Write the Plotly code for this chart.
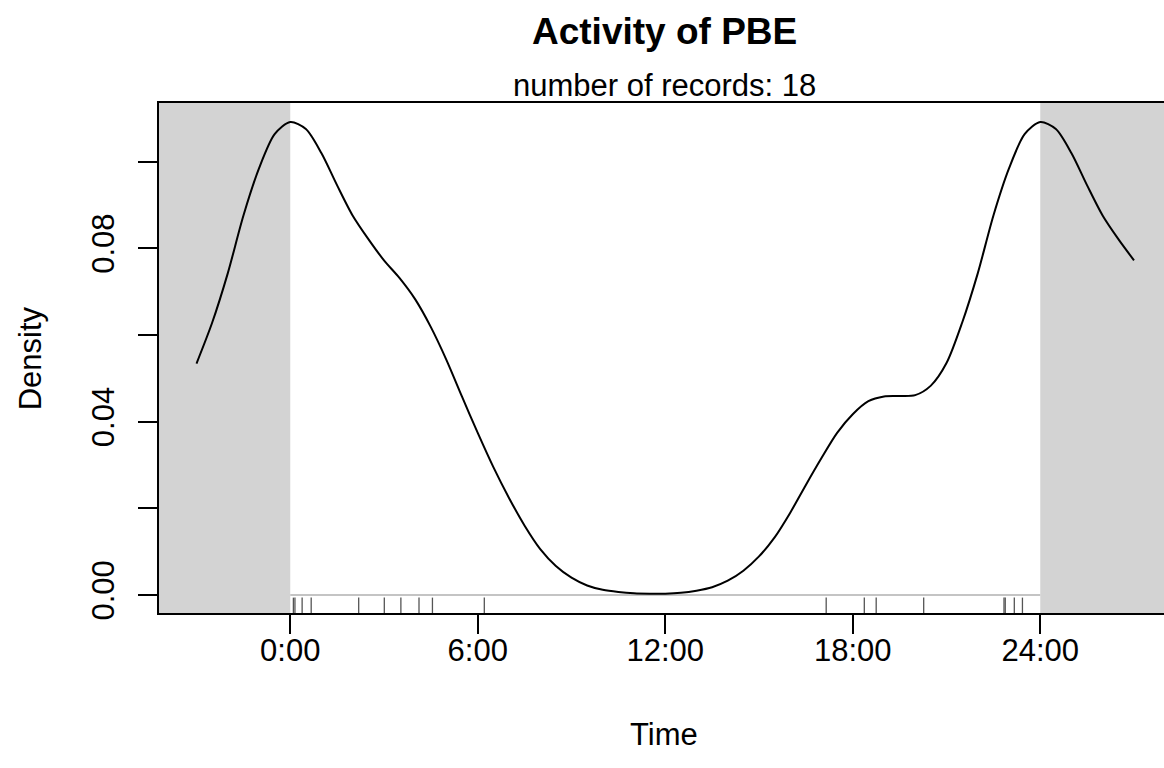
import plotly.graph_objects as go

# ---- data ----
hours = [-3.0, -2.5, -2.0, -1.5, -1.0, -0.5,
         0.0, 0.5, 1.0, 1.5, 2.0, 2.5, 3.0, 3.5, 4.0, 4.5, 5.0, 5.5,
         6.0, 6.5, 7.0, 7.5, 8.0, 8.5, 9.0, 9.5, 10.0, 10.5, 11.0, 11.5,
         12.0, 12.5, 13.0, 13.5, 14.0, 14.5, 15.0, 15.5, 16.0, 16.5, 17.0, 17.5,
         18.0, 18.5, 19.0, 19.5, 20.0, 20.5, 21.0, 21.5, 22.0, 22.5, 23.0, 23.5,
         24.0, 24.5, 25.0, 25.5, 26.0, 26.5, 27.0]
density = [0.0534, 0.0628, 0.0742, 0.0875, 0.0984, 0.1063,
           0.1091, 0.1075, 0.1019, 0.0945, 0.0875, 0.0821, 0.0772, 0.0731, 0.0682, 0.0618, 0.0542, 0.0457,
           0.0374, 0.0295, 0.0224, 0.0160, 0.0106, 0.0067, 0.0040, 0.0022, 0.0012, 0.0007, 0.0004, 0.0003,
           0.0003, 0.0005, 0.0010, 0.0018, 0.0033, 0.0056, 0.0089, 0.0133, 0.0190, 0.0254, 0.0316, 0.0374,
           0.0417, 0.0447, 0.0458, 0.0459, 0.0461, 0.0483, 0.0535, 0.0628, 0.0742, 0.0875, 0.0984, 0.1063,
           0.1091, 0.1075, 0.1019, 0.0945, 0.0875, 0.0821, 0.0772]
record_hours = [0.10, 0.15, 0.38, 0.67, 2.19, 3.01, 3.54, 4.12, 4.55, 6.21,
                17.15, 18.37, 18.75, 20.27, 22.84, 22.88, 23.17, 23.43]
x_tickvals = [0, 6, 12, 18, 24]
x_ticktext = ["0:00", "6:00", "12:00", "18:00", "24:00"]
y_tickvals = [0.0, 0.02, 0.04, 0.06, 0.08, 0.10]
y_ticktext = ["0.00", "", "0.04", "", "0.08", ""]
title_text = "Activity of PBE"
subtitle_text = "number of records: 18"

DAY_START, DAY_END = 0, 24
X_RANGE = [-4.2, 27.96]
Y_RANGE = [-0.00415, 0.1135]
RUG_TOP, RUG_BOTTOM = -0.0006, -0.00415

FONT = "Liberation Sans, Arial, Helvetica, sans-serif"

fig = go.Figure()

# zero baseline for the day
fig.add_trace(go.Scatter(x=[DAY_START, DAY_END], y=[0, 0], mode="lines",
                         line=dict(color="#c4c4c4", width=2), hoverinfo="skip"))

# rug
rx, ry = [], []
for h in record_hours:
    rx += [h, h, None]
    ry += [RUG_TOP, RUG_BOTTOM, None]
fig.add_trace(go.Scatter(x=rx, y=ry, mode="lines",
                         line=dict(color="#555555", width=1.3), hoverinfo="skip"))

# density curve
fig.add_trace(go.Scatter(x=hours, y=density, mode="lines",
                         line=dict(color="black", width=2, shape="spline", smoothing=0.8)))

# grey night areas
fig.add_shape(type="rect", xref="x", yref="paper", x0=X_RANGE[0], x1=DAY_START, y0=0, y1=1,
              fillcolor="#d3d3d3", line=dict(width=0), layer="below")
fig.add_shape(type="rect", xref="x", yref="paper", x0=DAY_END, x1=X_RANGE[1], y0=0, y1=1,
              fillcolor="#d3d3d3", line=dict(width=0), layer="below")

fig.update_layout(
    width=1164, height=768,
    margin=dict(l=159, r=0, t=103, b=155),
    paper_bgcolor="white", plot_bgcolor="white",
    showlegend=False,
    font=dict(family=FONT, size=31, color="black"),
    xaxis=dict(range=X_RANGE, tickvals=x_tickvals, ticktext=x_ticktext,
               ticks="outside", ticklen=19, tickwidth=1.7, tickcolor="black",
               showline=True, mirror=True, linecolor="black", linewidth=2,
               showgrid=False, zeroline=False, automargin=False,
               tickfont=dict(size=31), ticklabelstandoff=-10),
    yaxis=dict(range=Y_RANGE, tickvals=y_tickvals, ticktext=y_ticktext,
               ticks="outside", ticklen=19, tickwidth=1.7, tickcolor="black",
               showline=True, mirror=False, linecolor="black", linewidth=2,
               showgrid=False, zeroline=False, automargin=False,
               tickangle=-90, tickfont=dict(size=31), ticklabelstandoff=12),
    annotations=[
        dict(text="<b>%s</b>" % title_text, xref="paper", yref="paper", x=0.5025, y=1.14,
             xanchor="center", yanchor="middle", showarrow=False, font=dict(size=37)),
        dict(text=subtitle_text, xref="paper", yref="paper", x=0.5025, y=1.035,
             xanchor="center", yanchor="middle", showarrow=False, font=dict(size=31)),
        dict(text="Time", xref="paper", yref="paper", x=0.5025, y=-0.239,
             xanchor="center", yanchor="middle", showarrow=False, font=dict(size=31)),
        dict(text="Density", xref="paper", yref="paper", x=-0.128, y=0.5, textangle=-90,
             xanchor="center", yanchor="middle", showarrow=False, font=dict(size=31)),
    ],
)

fig.write_html("out.html")
